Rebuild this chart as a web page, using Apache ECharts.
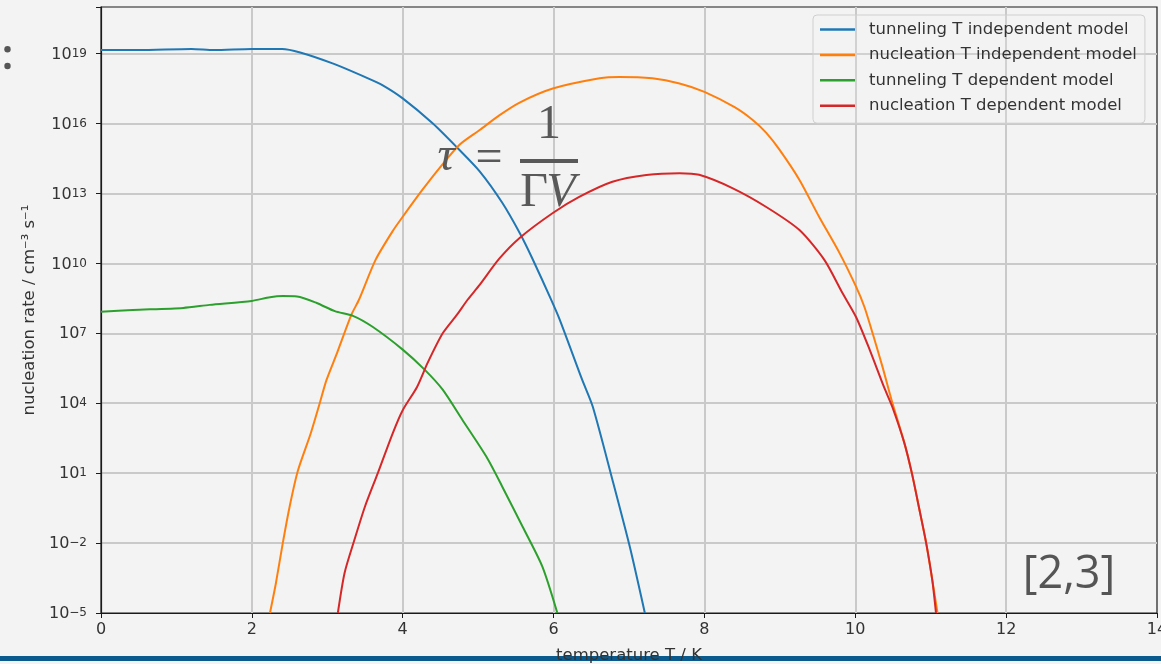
<!DOCTYPE html>
<html>
<head>
<meta charset="utf-8">
<script src="https://cdn.jsdelivr.net/npm/echarts@6/dist/echarts.min.js"></script>
<style>
  html, body { margin: 0; padding: 0; background: #f3f3f3; }
  #wrap { position: relative; width: 1161px; height: 664px; }
  #bar { position: absolute; left: 0; top: 656px; width: 1161px; height: 5px; background: #0b5a8e; z-index: 0; }
  #chart { position: absolute; left: 0; top: 0; width: 1161px; height: 664px; z-index: 1; }
</style>
</head>
<body>
<div id="wrap">
  <div id="bar"></div>
  <div id="chart"></div>
</div>
<script>
// series names (legend order)
const seriesNames = [
  'tunneling T independent model',
  'nucleation T independent model',
  'tunneling T dependent model',
  'nucleation T dependent model'
];
const seriesColors = ['#1f77b4', '#ff7f0e', '#2ca02c', '#d62728'];

// temperature T / K and log10(nucleation rate / cm^-3 s^-1)
const tunnelIndepT = [0, 0.5, 1.2, 1.5, 2.0, 2.4, 2.64, 3.07, 3.54, 3.73, 4.0, 4.4, 4.73, 5.02, 5.32, 5.56, 5.72, 5.96, 6.08, 6.38, 6.52, 6.78, 7.01, 7.21];
const tunnelIndepExp = [19.15, 19.15, 19.2, 19.15, 19.2, 19.2, 19.05, 18.58, 17.94, 17.65, 17.08, 16.0, 14.94, 13.95, 12.6, 11.25, 10.2, 8.5, 7.6, 5.0, 3.85, 0.72, -2.15, -5];

const nuclIndepT = [2.24, 2.32, 2.41, 2.50, 2.61, 2.78, 2.90, 2.99, 3.13, 3.32, 3.42, 3.64, 3.87, 4.0, 4.26, 4.49, 4.75, 5.02, 5.28, 5.55, 5.99, 6.61, 6.87, 7.31, 7.67, 8.0, 8.40, 8.64, 8.82, 8.99, 9.26, 9.52, 9.79, 10.01, 10.12, 10.23, 10.36, 10.48, 10.65, 10.75, 10.85, 10.94, 11.02, 11.09];
const nuclIndepExp = [-5, -3.7, -2.0, -0.45, 1.1, 2.7, 4.0, 5.0, 6.16, 7.8, 8.44, 10.15, 11.4, 12.0, 13.15, 14.1, 15.08, 15.72, 16.35, 16.9, 17.5, 17.94, 18.0, 17.94, 17.72, 17.36, 16.7, 16.15, 15.6, 14.9, 13.58, 12.0, 10.45, 9.0, 8.14, 7.0, 5.57, 4.15, 2.3, 1.0, -0.56, -2.0, -3.57, -5];

const tunnelDepT = [0, 0.42, 1.09, 1.44, 2.0, 2.24, 2.41, 2.60, 2.86, 3.1, 3.34, 3.60, 4.0, 4.29, 4.53, 4.79, 5.11, 5.32, 5.59, 5.85, 6.05];
const tunnelDepExp = [7.93, 8.0, 8.09, 8.22, 8.39, 8.55, 8.6, 8.58, 8.3, 7.95, 7.75, 7.28, 6.3, 5.44, 4.58, 3.29, 1.7, 0.42, -1.3, -3.0, -5];

const nuclDepT = [3.14, 3.23, 3.36, 3.50, 3.67, 3.87, 4.0, 4.19, 4.33, 4.53, 4.72, 4.86, 5.02, 5.28, 5.55, 5.99, 6.34, 6.78, 7.23, 7.67, 7.93, 8.37, 8.82, 9.26, 9.59, 9.83, 10.01, 10.19, 10.38, 10.49, 10.65, 10.75, 10.85, 10.94, 11.02, 11.07];
const nuclDepExp = [-5, -3.27, -1.86, -0.43, 1.0, 2.73, 3.7, 4.7, 5.73, 7.0, 7.8, 8.44, 9.08, 10.2, 11.09, 12.16, 12.85, 13.5, 13.79, 13.87, 13.8, 13.23, 12.42, 11.43, 10.15, 8.73, 7.7, 6.3, 4.7, 3.85, 2.3, 1.0, -0.56, -2.0, -3.57, -5];

// axis ticks
const xTicks = [0, 2, 4, 6, 8, 10, 12, 14];
const yTickExps = [-5, -2, 1, 4, 7, 10, 13, 16, 19];

const FONT = 'DejaVu Sans';
const zip = (xs, ys) => xs.map((x, i) => [x, ys[i]]);
const allData = [
  zip(tunnelIndepT, tunnelIndepExp),
  zip(nuclIndepT, nuclIndepExp),
  zip(tunnelDepT, tunnelDepExp),
  zip(nuclDepT, nuclDepExp)
];

const chart = echarts.init(document.getElementById('chart'));

const option = {
  backgroundColor: 'transparent',
  animation: false,
  grid: {
    left: 101, right: 4, top: 7, bottom: 51,
    outerBoundsMode: 'none',
    show: true, borderColor: '#1a1a1a', borderWidth: 1.2,
    backgroundColor: 'transparent'
  },
  legend: {
    left: 813, top: 15,
    orient: 'vertical',
    padding: [6, 8, 9, 7],
    itemGap: 8.4,
    itemWidth: 35, itemHeight: 2.5,
    icon: 'rect',
    borderColor: '#cfcfcf', borderWidth: 1, borderRadius: 4,
    backgroundColor: 'rgba(243,243,243,0.2)',
    data: seriesNames,
    textStyle: { fontFamily: FONT, fontSize: 16.5, color: '#333', lineHeight: 17, padding: [0, 0, 0, 9] }
  },
  xAxis: {
    type: 'value', min: xTicks[0], max: xTicks[xTicks.length - 1], interval: 2,
    name: 'temperature T / K', nameLocation: 'middle', nameGap: 34,
    nameTextStyle: { fontFamily: FONT, fontSize: 16.5, color: '#333' },
    axisLine: { show: true, onZero: false, lineStyle: { color: '#1a1a1a', width: 1.2 } },
    axisTick: { show: true, length: 5, lineStyle: { color: '#1a1a1a' } },
    axisLabel: { fontFamily: FONT, fontSize: 16, color: '#333', margin: 9 },
    splitLine: { show: true, showMinLine: false, showMaxLine: false, lineStyle: { color: '#c9c9c9', width: 2 } }
  },
  yAxis: {
    type: 'value', min: yTickExps[0], max: 21, interval: 3,
    name: 'nucleation rate / cm\u207B\u00B3 s\u207B\u00B9', nameLocation: 'middle', nameGap: 61,
    nameTextStyle: { fontFamily: FONT, fontSize: 16.5, color: '#333' },
    axisLine: { show: true, lineStyle: { color: '#1a1a1a', width: 1.2 } },
    axisTick: { show: true, length: 5, lineStyle: { color: '#1a1a1a' } },
    axisLabel: {
      margin: 14,
      formatter: v => {
        if (yTickExps.indexOf(v) < 0) return '';
        const e = v < 0 ? '\u2212' + (-v) : String(v);
        return '{b|10}{s|' + e + '}';
      },
      rich: {
        b: { fontFamily: FONT, fontSize: 16, color: '#333', lineHeight: 18, padding: [6, 0, 0, 0], verticalAlign: 'bottom' },
        s: { fontFamily: FONT, fontSize: 12, color: '#333', lineHeight: 14, padding: [3, 0, 0, 0], verticalAlign: 'top' }
      }
    },
    splitLine: { show: true, showMinLine: false, showMaxLine: false, lineStyle: { color: '#c9c9c9', width: 2 } }
  },
  graphic: [
    { type: 'circle', shape: { cx: 7.5, cy: 49.3, r: 3.2 }, style: { fill: '#555' } },
    { type: 'circle', shape: { cx: 7.5, cy: 66, r: 3.2 }, style: { fill: '#555' } },
    { type: 'text', z: 100, style: { text: '\u03C4', x: 446, y: 157, font: 'italic 48px "Liberation Serif"', fill: '#595959', align: 'center', verticalAlign: 'middle' } },
    { type: 'text', z: 100, style: { text: '=', x: 489, y: 159, font: '48px "Liberation Serif"', fill: '#595959', align: 'center', verticalAlign: 'middle' } },
    { type: 'text', z: 100, style: { text: '1', x: 549, y: 125, font: '48px "Liberation Serif"', fill: '#595959', align: 'center', verticalAlign: 'middle' } },
    { type: 'rect', z: 100, shape: { x: 520, y: 159, width: 58, height: 4 }, style: { fill: '#595959' } },
    { type: 'text', z: 100, style: { text: '\u0393', x: 534, y: 193, font: '48px "Liberation Serif"', fill: '#595959', align: 'center', verticalAlign: 'middle' } },
    { type: 'text', z: 100, style: { text: 'V', x: 561, y: 193, font: 'italic 48px "Liberation Serif"', fill: '#595959', align: 'center', verticalAlign: 'middle' } },
    { type: 'text', z: 100, style: { text: '[2,3]', x: 1069, y: 575, font: '45px "Open Sans"', fill: '#555', align: 'center', verticalAlign: 'middle' } }
  ],
  series: seriesNames.map((name, i) => ({
    name: name,
    type: 'line',
    data: allData[i],
    symbol: 'none',
    smooth: 0.25,
    color: seriesColors[i],
    lineStyle: { width: 2, color: seriesColors[i] }
  }))
};

chart.setOption(option);
</script>
</body>
</html>
